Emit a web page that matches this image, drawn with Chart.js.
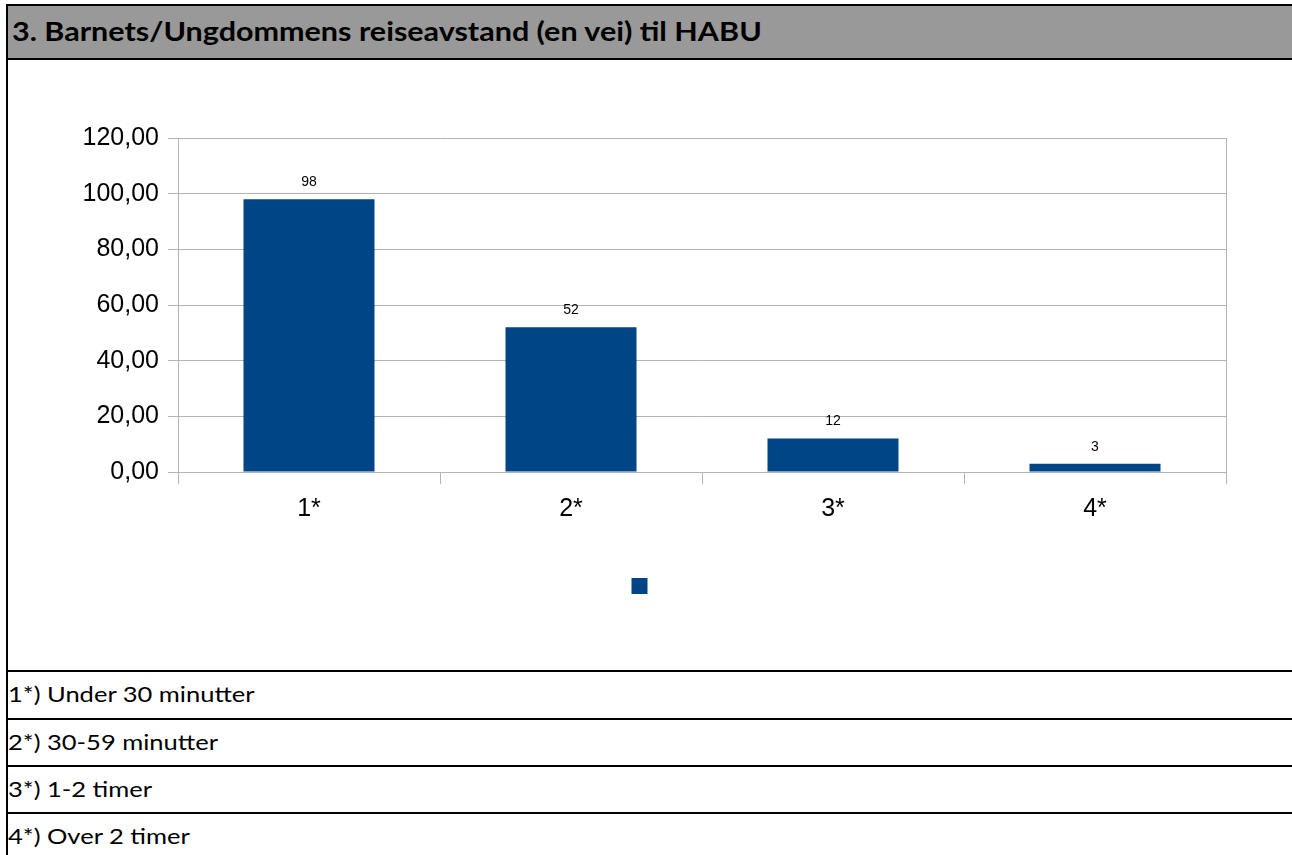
<!DOCTYPE html>
<html>
<head>
<meta charset="utf-8">
<script src="https://cdn.jsdelivr.net/npm/chart.js@4.4.1/dist/chart.umd.min.js"></script>
<style>
  html, body { margin: 0; padding: 0; background: #fff; }
  body { width: 1292px; height: 855px; position: relative; overflow: hidden; font-family: Lato, "Open Sans", "Liberation Sans", sans-serif; }
  #title { position: absolute; left: 6px; top: 4px; width: 1286px; background: #999999;
           border-top: 2px solid #000; border-left: 2px solid #000; border-bottom: 2px solid #000; box-sizing: border-box; height: 56px;
           color: #000; line-height: 50px; padding-left: 4px; white-space: nowrap; }
  #title span { display: inline-block; font-weight: bold; font-size: 27px; transform: scaleX(1.13); transform-origin: left center; }
  #leftline { position: absolute; left: 6px; top: 58px; width: 2px; height: 797px; background: #000; }
  .row { position: absolute; left: 6px; width: 1286px; border-top: 2px solid #000; box-sizing: border-box;
         color: #000; padding-left: 2px; line-height: 44px; white-space: nowrap; }
  .row span { display: inline-block; font-size: 22px; transform: scaleX(1.16); transform-origin: left center; }
  #chartwrap { position: absolute; left: 0; top: 0; width: 1292px; height: 640px; }
</style>
</head>
<body>
<div id="title"><span>3. Barnets/Ungdommens reiseavstand (en vei) til HABU</span></div>
<div id="leftline"></div>
<div id="chartwrap"><canvas id="c" width="1292" height="640"></canvas></div>
<div id="rows"></div>
<script>
const categories = ["1*", "2*", "3*", "4*"];
const values = [98, 52, 12, 3];
const yTicks = [0, 20, 40, 60, 80, 100, 120];
const footnotes = ["1*) Under 30 minutter", "2*) 30-59 minutter", "3*) 1-2 timer", "4*) Over 2 timer"];

const rowsEl = document.getElementById('rows');
const rowTops = [670, 718, 765, 812];
footnotes.forEach((t, i) => {
  const d = document.createElement('div');
  d.className = 'row';
  d.style.top = rowTops[i] + 'px';
  d.style.height = (i < 3 ? rowTops[i+1] - rowTops[i] : 855 - rowTops[i]) + 'px';
  const s = document.createElement('span');
  s.textContent = t;
  d.appendChild(s);
  rowsEl.appendChild(d);
});

const valueLabels = {
  id: 'valueLabels',
  afterDatasetsDraw(chart) {
    const ctx = chart.ctx;
    const meta = chart.getDatasetMeta(0);
    ctx.save();
    ctx.font = '14px "Liberation Sans", Arial, sans-serif';
    ctx.fillStyle = '#000';
    ctx.textAlign = 'center';
    ctx.textBaseline = 'middle';
    meta.data.forEach((bar, i) => {
      ctx.fillText(String(values[i]), bar.x, bar.y - 17);
    });
    ctx.restore();
  }
};

new Chart(document.getElementById('c'), {
  type: 'bar',
  data: {
    labels: categories,
    datasets: [{
      label: '',
      data: values,
      backgroundColor: '#004586',
      borderColor: '#004586',
      borderWidth: 0,
      barPercentage: 0.5,
      categoryPercentage: 1.0
    }]
  },
  options: {
    responsive: false,
    animation: false,
    devicePixelRatio: 1,
    layout: { padding: { left: 0, right: 6, top: 138, bottom: 36 } },
    plugins: {
      tooltip: { enabled: false },
      legend: {
        display: true,
        position: 'bottom',
        labels: {
          boxWidth: 16, boxHeight: 16, padding: 10,
          font: { size: 14 },
          generateLabels(chart) {
            return [{ text: '', fillStyle: '#004586', strokeStyle: '#004586', lineWidth: 0, hidden: false, datasetIndex: 0 }];
          }
        },
        onClick: null
      }
    },
    scales: {
      x: {
        grid: { display: true, color: '#b3b3b3', lineWidth: 1, offset: true, drawOnChartArea: false, tickLength: 12 },
        border: { display: true, color: '#b3b3b3', width: 1 },
        ticks: { color: '#000', font: { family: '"Liberation Sans", Arial, sans-serif', size: 25 }, padding: 10 },
        afterFit(scale) { scale.height = 96; }
      },
      y: {
        min: 0, max: 120,
        afterBuildTicks(scale) { scale.ticks = yTicks.map(v => ({ value: v })); },
        grid: { color: '#b3b3b3', lineWidth: 1, tickLength: 10 },
        border: { display: true, color: '#b3b3b3', width: 1 },
        ticks: {
          color: '#000', padding: 9,
          font: { family: '"Liberation Sans", Arial, sans-serif', size: 25 },
          callback: (v) => Number(v).toFixed(2).replace('.', ',')
        },
        afterFit(scale) { scale.width = 178; }
      },
      y2: {
        position: 'right', display: true,
        grid: { display: false },
        border: { display: true, color: '#b3b3b3', width: 1 },
        ticks: { display: false },
        afterFit(scale) { scale.width = 60; }
      }
    }
  },
  plugins: [valueLabels]
});
</script>
</body>
</html>
